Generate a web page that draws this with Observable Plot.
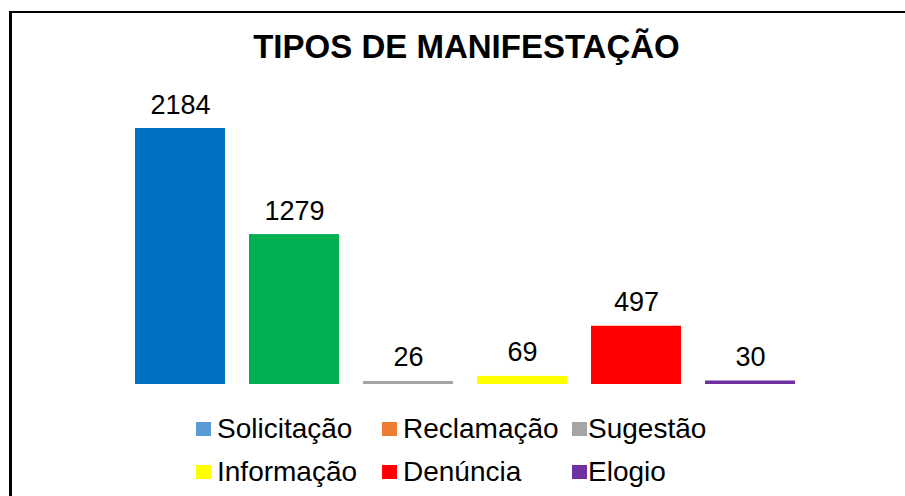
<!DOCTYPE html>
<html>
<head>
<meta charset="utf-8">
<script src="https://cdn.jsdelivr.net/npm/d3@7"></script>
<script src="https://cdn.jsdelivr.net/npm/@observablehq/plot@0.6"></script>
<style>
  html, body { margin: 0; padding: 0; background: #fff; }
  #wrap { position: relative; width: 905px; height: 496px; overflow: hidden; font-family: "Liberation Sans", Arial, sans-serif; }
  #frame { position: absolute; left: 9px; top: 11px; width: 1000px; height: 600px; border-left: 3px solid #000; border-top: 2px solid #000; box-sizing: border-box; }
  #title { position: absolute; left: 0; top: 30px; width: 933px; text-align: center; font-weight: bold; font-size: 33px; line-height: 33px; color: #000; }
  #chart { position: absolute; left: 0; top: 80px; }
  #chart svg { overflow: visible; }
  .leg { position: absolute; font-size: 28px; line-height: 28px; color: #000; white-space: nowrap; }
  .sw { position: absolute; width: 15px; height: 14px; }
</style>
</head>
<body>
<div id="wrap">
  <div id="frame"></div>
  <div id="title">TIPOS DE MANIFESTAÇÃO</div>
  <div id="chart"></div>
  <div id="legend"></div>
</div>
<script>
const categories = ["Solicitação", "Reclamação", "Sugestão", "Informação", "Denúncia", "Elogio"];
const values = [2184, 1279, 26, 69, 497, 30];
const barColors = ["#0070C0", "#00B050", "#A5A5A5", "#FFFF00", "#FF0000", "#7030A0"];
const legendColors = ["#5B9BD5", "#ED7D31", "#A5A5A5", "#FFFF00", "#FF0000", "#7030A0"];

const data = categories.map((c, i) => ({cat: c, value: values[i], color: barColors[i]}));

const chart = Plot.plot({
  width: 905,
  height: 310,
  marginLeft: 111,
  marginRight: 86,
  marginTop: 48,
  marginBottom: 6,
  x: {domain: categories, padding: 0.2105, axis: null},
  y: {domain: [0, 2184], axis: null},
  color: {type: "identity"},
  style: {fontFamily: "'Liberation Sans', Arial, sans-serif", background: "transparent"},
  marks: [
    Plot.barY(data, {x: "cat", y: "value", fill: "color"}),
    Plot.text(data, {x: "cat", y: "value", text: d => String(d.value), dy: -15, lineAnchor: "bottom", fontSize: 27, fill: "#000"})
  ]
});
document.getElementById("chart").appendChild(chart);

// legend
const legendCols = [196, 382, 572];
const legendRows = [422, 465];
const legend = document.getElementById("legend");
categories.forEach((c, i) => {
  const col = i % 3, row = Math.floor(i / 3);
  const sw = document.createElement("div");
  sw.className = "sw";
  sw.style.left = legendCols[col] + "px";
  sw.style.top = legendRows[row] + "px";
  sw.style.background = legendColors[i];
  legend.appendChild(sw);
  const t = document.createElement("div");
  t.className = "leg";
  t.style.left = (legendCols[col] + (col === 2 ? 16 : 21)) + "px";
  t.style.top = (legendRows[row] - 7) + "px";
  t.textContent = c;
  legend.appendChild(t);
});
</script>
</body>
</html>
